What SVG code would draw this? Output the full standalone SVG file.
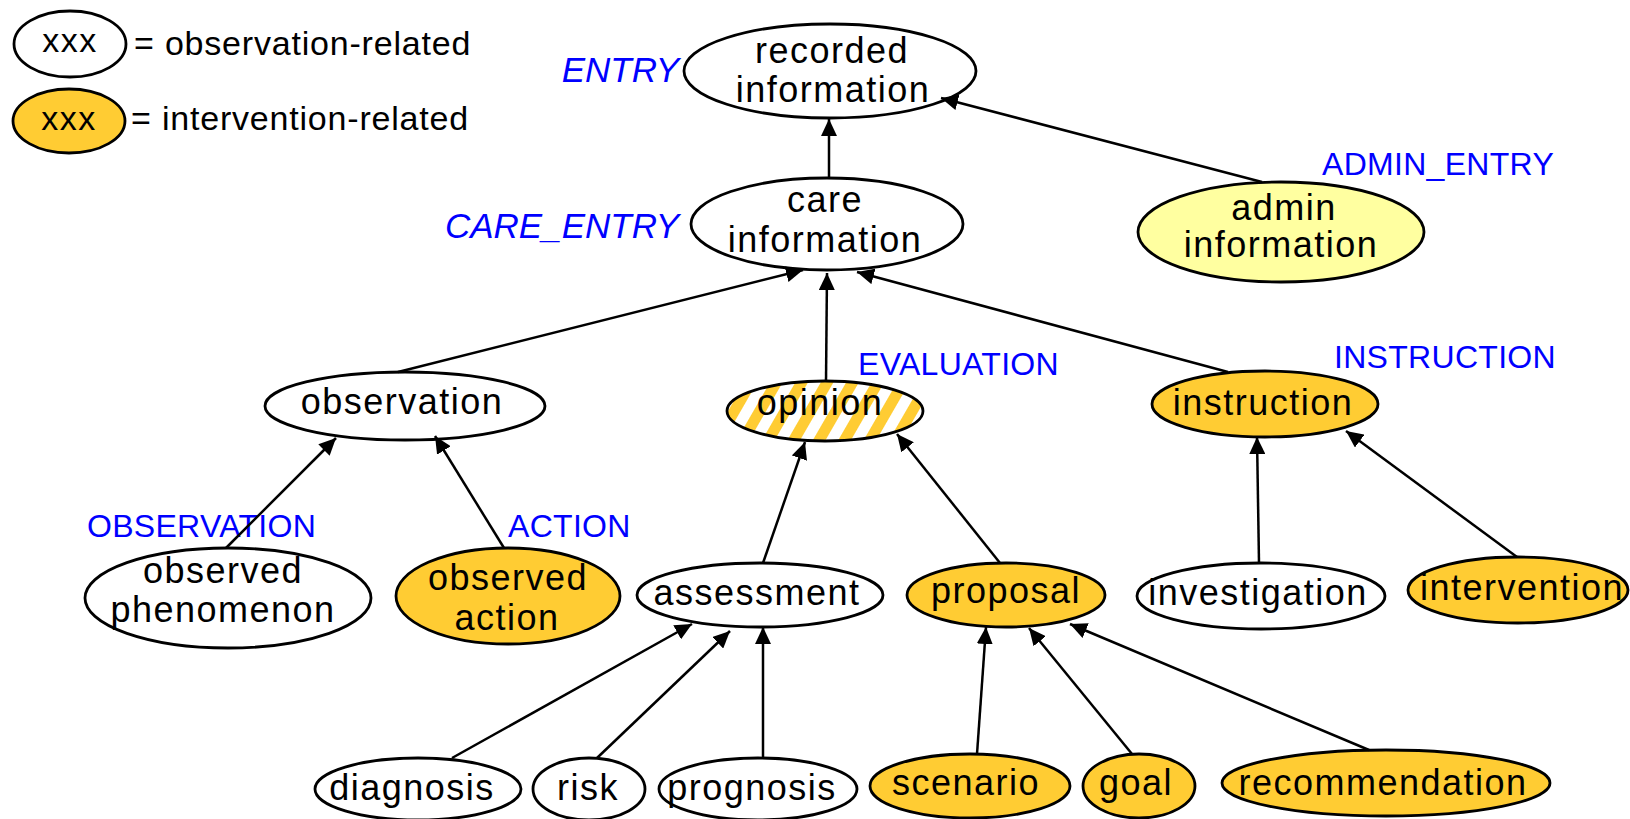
<svg xmlns="http://www.w3.org/2000/svg" width="1630" height="819" viewBox="0 0 1630 819">
<style>
.n{stroke:#000;stroke-width:2.8;fill:#fff}
.y{fill:#FFCC33}
.a{fill:#FFFFA0}
.h{fill:url(#hatch)}
.t{font-family:"Liberation Sans",Arial,sans-serif;font-size:36px;letter-spacing:1.5px;fill:#000;text-anchor:middle}
.lg{font-family:"Liberation Sans",Arial,sans-serif;font-size:34px;letter-spacing:0.8px;fill:#000}
.b{font-family:"Liberation Sans",Arial,sans-serif;font-size:32px;letter-spacing:0.3px;fill:#0000FF}
.bi{font-family:"Liberation Sans",Arial,sans-serif;font-size:35px;font-style:italic;fill:#0000FF;text-anchor:end}
.c{stroke:#000;stroke-width:2.5;fill:none;marker-end:url(#arr)}
</style>
<defs>
<pattern id="hatch" patternUnits="userSpaceOnUse" width="22" height="22" patternTransform="rotate(30)">
<rect width="22" height="22" fill="#fff"/>
<rect width="11" height="22" fill="#FFCC33"/>
</pattern>
<marker id="arr" markerUnits="userSpaceOnUse" markerWidth="18" markerHeight="16" refX="17" refY="8" orient="auto">
<path d="M0,0 L17,8 L0,16 z" fill="#000"/>
</marker>
</defs>

<g id="legend">
<ellipse class="n" cx="70" cy="44" rx="56" ry="33"/>
<text class="t" x="70" y="52" style="font-size:34px">xxx</text>
<text class="lg" x="134" y="55">= observation-related</text>
<ellipse class="n y" cx="69" cy="121" rx="56" ry="32"/>
<text class="t" x="69" y="130" style="font-size:34px">xxx</text>
<text class="lg" x="131" y="130">= intervention-related</text>
</g>

<g id="labels">
<text class="bi" x="679" y="82">ENTRY</text>
<text class="bi" x="679" y="238">CARE_ENTRY</text>
<text class="b" x="1322" y="175">ADMIN_ENTRY</text>
<text class="b" x="858" y="375">EVALUATION</text>
<text class="b" x="1334" y="368">INSTRUCTION</text>
<text class="b" x="87" y="537">OBSERVATION</text>
<text class="b" x="508" y="537">ACTION</text>
</g>

<g id="node-recorded-information">
<ellipse class="n" cx="830" cy="71" rx="146" ry="47"/>
<text class="t" x="832" y="63">recorded</text>
<text class="t" x="833" y="102">information</text>
</g>
<g id="node-care-information">
<ellipse class="n" cx="827" cy="224" rx="136" ry="46"/>
<text class="t" x="825" y="212">care</text>
<text class="t" x="825" y="252">information</text>
</g>
<g id="node-admin-information">
<ellipse class="n a" cx="1281" cy="232" rx="143" ry="50"/>
<text class="t" x="1284" y="220">admin</text>
<text class="t" x="1281" y="257">information</text>
</g>
<g id="node-observation">
<ellipse class="n" cx="405" cy="406" rx="140" ry="34"/>
<text class="t" x="402" y="414">observation</text>
</g>
<g id="node-opinion">
<ellipse class="n h" cx="825" cy="411" rx="98" ry="30"/>
<text class="t" x="820" y="415">opinion</text>
</g>
<g id="node-instruction">
<ellipse class="n y" cx="1265" cy="404" rx="113" ry="33"/>
<text class="t" x="1263" y="415">instruction</text>
</g>
<g id="node-observed-phenomenon">
<ellipse class="n" cx="228" cy="598" rx="143" ry="50"/>
<text class="t" x="223" y="583">observed</text>
<text class="t" x="223" y="622">phenomenon</text>
</g>
<g id="node-observed-action">
<ellipse class="n y" cx="508" cy="596" rx="112" ry="48"/>
<text class="t" x="508" y="590">observed</text>
<text class="t" x="507" y="630">action</text>
</g>
<g id="node-assessment">
<ellipse class="n" cx="760" cy="595" rx="123" ry="32"/>
<text class="t" x="757" y="605">assessment</text>
</g>
<g id="node-proposal">
<ellipse class="n y" cx="1006" cy="595" rx="99" ry="32"/>
<text class="t" x="1006" y="603">proposal</text>
</g>
<g id="node-investigation">
<ellipse class="n" cx="1261" cy="596" rx="124" ry="33"/>
<text class="t" x="1258" y="605">investigation</text>
</g>
<g id="node-intervention">
<ellipse class="n y" cx="1518" cy="590" rx="110" ry="33"/>
<text class="t" x="1522" y="600">intervention</text>
</g>
<g id="node-diagnosis">
<ellipse class="n" cx="418" cy="789" rx="103" ry="31"/>
<text class="t" x="412" y="800">diagnosis</text>
</g>
<g id="node-risk">
<ellipse class="n" cx="589" cy="789" rx="56" ry="31"/>
<text class="t" x="588" y="800">risk</text>
</g>
<g id="node-prognosis">
<ellipse class="n" cx="758" cy="789" rx="99" ry="31"/>
<text class="t" x="752" y="800">prognosis</text>
</g>
<g id="node-scenario">
<ellipse class="n y" cx="970" cy="786" rx="100" ry="32"/>
<text class="t" x="966" y="795">scenario</text>
</g>
<g id="node-goal">
<ellipse class="n y" cx="1139" cy="786" rx="56" ry="32"/>
<text class="t" x="1136" y="795">goal</text>
</g>
<g id="node-recommendation">
<ellipse class="n y" cx="1386" cy="783" rx="164" ry="33"/>
<text class="t" x="1383" y="795">recommendation</text>
</g>

<g id="connectors">
<line class="c" x1="829" y1="178" x2="829" y2="119"/>
<line class="c" x1="1262" y1="182" x2="941" y2="98"/>
<line class="c" x1="398" y1="372" x2="803" y2="270"/>
<line class="c" x1="826" y1="381" x2="827" y2="273"/>
<line class="c" x1="1228" y1="372" x2="857" y2="272"/>
<line class="c" x1="226" y1="548" x2="336" y2="438"/>
<line class="c" x1="504" y1="548" x2="435" y2="436"/>
<line class="c" x1="763" y1="563" x2="805" y2="442"/>
<line class="c" x1="1000" y1="563" x2="897" y2="434"/>
<line class="c" x1="1259" y1="563" x2="1257" y2="437"/>
<line class="c" x1="1517" y1="557" x2="1346" y2="431"/>
<line class="c" x1="452" y1="758" x2="692" y2="624"/>
<line class="c" x1="597" y1="758" x2="730" y2="631"/>
<line class="c" x1="763" y1="758" x2="763" y2="627"/>
<line class="c" x1="977" y1="754" x2="986" y2="627"/>
<line class="c" x1="1132" y1="754" x2="1029" y2="628"/>
<line class="c" x1="1369" y1="750" x2="1070" y2="624"/>
</g>
</svg>
